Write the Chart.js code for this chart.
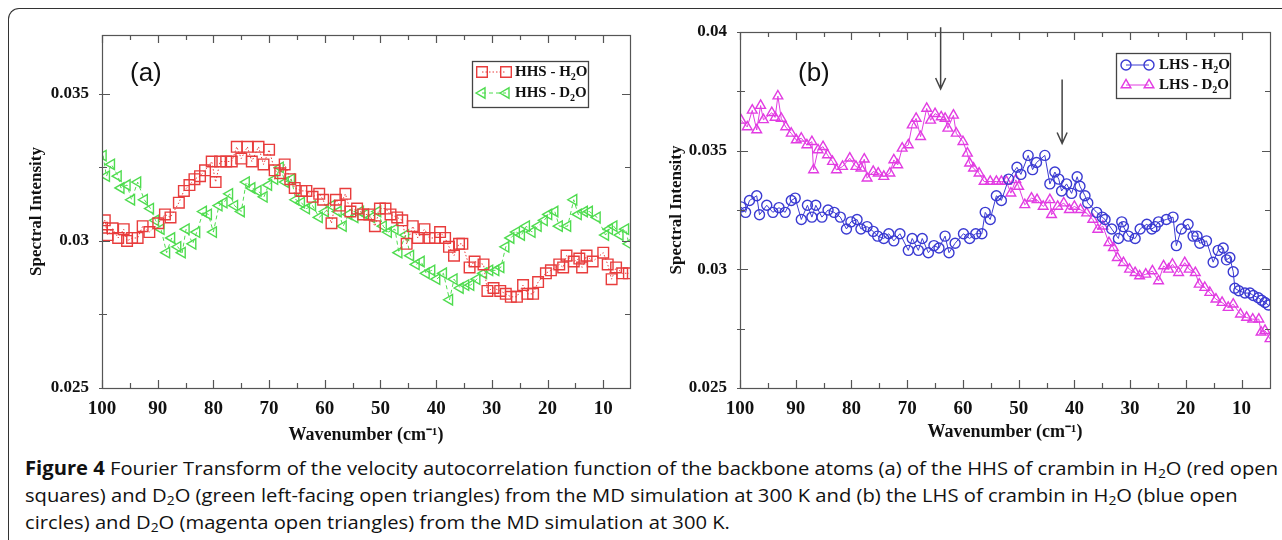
<!DOCTYPE html>
<html>
<head>
<meta charset="utf-8">
<script src="https://cdn.jsdelivr.net/npm/chart.js@4.4.0/dist/chart.umd.min.js"></script>
<style>
  body { margin: 0; background: #fff; width: 1282px; height: 540px; overflow: hidden; position: relative; }
  #frame { position: absolute; left: 8px; top: 8px; width: 1320px; height: 600px;
           border-left: 1.6px solid #333; border-top: 1.6px solid #333; border-top-left-radius: 11px; }
  #wrapA { position: absolute; left: 0; top: 0; width: 640px; height: 450px; }
  #wrapB { position: absolute; left: 640px; top: 0; width: 642px; height: 450px; }
  #caption { position: absolute; left: 25px; top: 455px; font-family: "Open Sans", sans-serif; font-size: 19px;
             font-weight: 500; line-height: 27px; color: #111; white-space: nowrap; transform-origin: 0 0; }
  #caption sub { font-size: 13px; vertical-align: -3px; line-height: 0; }
</style>
</head>
<body>
<div id="frame"></div>
<div id="wrapA"><canvas id="chartA" width="640" height="450"></canvas></div>
<div id="wrapB"><canvas id="chartB" width="642" height="450"></canvas></div>
<div id="caption">
  <span id="line1"><b>Figure 4</b> Fourier Transform of the velocity autocorrelation function of the backbone atoms (a) of the HHS of crambin in H<sub>2</sub>O (red open</span><br>
  squares) and D<sub>2</sub>O (green left-facing open triangles) from the MD simulation at 300 K and (b) the LHS of crambin in H<sub>2</sub>O (blue open<br>
  circles) and D<sub>2</sub>O (magenta open triangles) from the MD simulation at 300 K.
</div>
<script>
// ---- data ----
const xTickLabels = [100, 90, 80, 70, 60, 50, 40, 30, 20, 10];
const xMinorTicks = [95, 85, 75, 65, 55, 45, 35, 25, 15];
const yTickLabelsA = [0.025, 0.03, 0.035];
const yMinorTicksA = [0.0275, 0.0325];
const yTickLabelsB = [0.025, 0.03, 0.035, 0.04];
const yMinorTicksB = [0.0275, 0.0325, 0.0375];

// (a) HHS - H2O
const hhsH2oX = [100, 99.5, 99, 98.1, 97.1, 96.1, 95.5, 94.6, 93.6, 92.7, 91.5, 89.9, 88.7, 87.7, 86.2, 85.3, 84.3, 83.4, 82.4, 81.5,
  80.3, 79.6, 78.8, 77.7, 76.7, 75.8, 75, 73.9, 73.1, 71.9, 71, 70, 69, 68, 67.2, 66.2, 65.4, 64.2, 63.3, 62.2,
  61, 60.3, 58.8, 58, 57.3, 56.3, 55.4, 54.2, 53.1, 52, 51, 50.1, 49.1, 48.2, 47, 46.1, 45.3, 44.2, 43.3, 42.1,
  41.2, 40.2, 39.3, 38.4, 37.7, 36.8, 35.9, 35.3, 34, 33.1, 31.5, 30.8, 29.7, 28.5, 27.5, 26.6, 25.5, 24.4, 23.6, 22.6,
  21.7, 20.3, 19.4, 17.9, 17.2, 16.6, 15.3, 14.3, 13.8, 13, 11.9, 10, 9.2, 8.5, 7.7, 6.6, 5.4];
const hhsH2oY = [0.03045, 0.0307, 0.0302, 0.03043, 0.0301, 0.0304, 0.0300, 0.0301, 0.0301, 0.0305, 0.0303, 0.0306, 0.0309, 0.0308, 0.0313, 0.0317, 0.0319, 0.0321, 0.0322, 0.0324,
  0.0327, 0.0320, 0.0327, 0.0327, 0.0327, 0.0332, 0.0328, 0.0332, 0.0327, 0.0332, 0.0326, 0.0331, 0.0324, 0.0323, 0.0326, 0.0321, 0.0318, 0.0317, 0.0317, 0.0315,
  0.0316, 0.0314, 0.0306, 0.0314, 0.0312, 0.0316, 0.0310, 0.0311, 0.0309, 0.0309, 0.0305, 0.0311, 0.0311, 0.0309, 0.0308, 0.0307, 0.0299, 0.0305, 0.0301, 0.0304,
  0.0301, 0.0301, 0.0303, 0.0301, 0.0298, 0.0295, 0.0299, 0.0299, 0.0291, 0.0293, 0.0292, 0.0283, 0.0284, 0.0283, 0.0282, 0.0281, 0.0281, 0.0285, 0.0282, 0.0282,
  0.0286, 0.0289, 0.0290, 0.0292, 0.0291, 0.0295, 0.0293, 0.0294, 0.0291, 0.0295, 0.0293, 0.0296, 0.0292, 0.0287, 0.0291, 0.0289, 0.0289];

// (a) HHS - D2O
const hhsD2oX = [99.8, 99.2, 98.3, 97.1, 96.6, 95.5, 94.7, 93.6, 92.4, 91.3, 90.4, 89.4, 88.4, 87.5, 86.4, 85.6, 84.9, 83.7, 83, 81.8,
  80.9, 80, 79, 78.1, 77.1, 76.2, 75, 74.1, 73.1, 72, 70.9, 70.1, 69, 68, 67.1, 66, 65.2, 64.2, 63.3, 62.2,
  61, 59.9, 58.8, 57.6, 56.7, 55.7, 54.6, 53.6, 52.7, 51.6, 50.5, 49.5, 48.6, 47.4, 46.7, 45.5, 44.6, 43.6, 42.7, 41.8,
  40.8, 39.9, 38.7, 37.6, 36.8, 35.7, 34.7, 33.8, 32.7, 31.5, 30.4, 29.3, 28.4, 27.5, 26.6, 25.6, 24.7, 23.8, 22.8, 21.7,
  20.6, 19.8, 18.7, 17.9, 16.4, 15.3, 14.5, 13.4, 12.5, 11.1, 9.6, 8.9, 8.1, 7, 6, 5.4];
const hhsD2oY = [0.0329, 0.0322, 0.0326, 0.0322, 0.0318, 0.0319, 0.0314, 0.0320, 0.0314, 0.0311, 0.0307, 0.0304, 0.0296, 0.0301, 0.0298, 0.0296, 0.0304, 0.0299, 0.0303, 0.0310,
  0.0309, 0.0303, 0.0312, 0.0313, 0.0316, 0.0312, 0.0310, 0.0320, 0.0318, 0.0317, 0.0315, 0.0319, 0.0321, 0.0325, 0.0320, 0.0321, 0.0314, 0.0313, 0.0311, 0.0312,
  0.0308, 0.0310, 0.0312, 0.0310, 0.0305, 0.0309, 0.0308, 0.0310, 0.0309, 0.0308, 0.0310, 0.0305, 0.0303, 0.0304, 0.0296, 0.0302, 0.0295, 0.0292, 0.0293, 0.0289,
  0.0290, 0.0287, 0.0289, 0.0280, 0.0287, 0.0284, 0.0285, 0.0285, 0.0287, 0.0289, 0.0290, 0.0290, 0.0291, 0.0298, 0.0301, 0.0303, 0.0302, 0.0305, 0.0303, 0.0305,
  0.0307, 0.0309, 0.0310, 0.0305, 0.0305, 0.0314, 0.0309, 0.0310, 0.0310, 0.0308, 0.0302, 0.0304, 0.0305, 0.0302, 0.0304, 0.0299];

// (b) LHS - H2O
const lhsH2oX = [99.8, 99, 98.3, 97, 96.5, 95.2, 94.1, 93, 91.9, 90.8, 90.1, 89, 87.9, 87.1, 86.4, 85.3, 84.2, 83.1, 82, 80.9,
  80.1, 79, 78.3, 77.2, 76.1, 75.3, 74.2, 73.3, 72.4, 71.3, 69.8, 69.1, 68, 67.3, 66.2, 65.2, 64.3, 63.2, 62.5, 61.4,
  59.9, 58.8, 57.7, 56.6, 56, 55.1, 54, 53.1, 51.8, 50.3, 49.6, 48.3, 47.5, 46.8, 45.3, 44.4, 43.5, 42.8, 42.3, 41.4,
  40.5, 39.5, 39, 38.1, 37.6, 36, 35, 34.5, 33.3, 32.1, 31.5, 31.2, 30.3, 29.1, 28.2, 27, 26.1, 25.5, 24.9, 23.5,
  22.3, 21.7, 20.8, 19.6, 18.7, 18, 17.5, 16.3, 15.1, 14.2, 13.3, 12.7, 12.1, 11.5, 11.2, 10.5, 9.4, 8.5, 7.9, 7,
  6.4, 5.8, 5.2];
const lhsH2oY = [0.03263, 0.0324, 0.0329, 0.0331, 0.0323, 0.0327, 0.0324, 0.0326, 0.0324, 0.0329, 0.0330, 0.0321, 0.0327, 0.0322, 0.0327, 0.0322, 0.0325, 0.0324, 0.0322, 0.0317,
  0.0320, 0.0321, 0.0317, 0.0318, 0.0316, 0.0314, 0.0313, 0.0315, 0.0312, 0.0315, 0.0308, 0.0313, 0.0308, 0.0313, 0.0307, 0.0310, 0.0309, 0.0314, 0.0307, 0.0311,
  0.0315, 0.0313, 0.0315, 0.0315, 0.0324, 0.0321, 0.0331, 0.0329, 0.0338, 0.0343, 0.0340, 0.0348, 0.0342, 0.0345, 0.0348, 0.0336, 0.0341, 0.0338, 0.0333, 0.0336,
  0.0332, 0.0339, 0.0335, 0.0331, 0.0328, 0.0324, 0.0322, 0.0321, 0.0317, 0.0313, 0.0320, 0.0318, 0.0314, 0.0313, 0.0317, 0.0319, 0.0317, 0.0318, 0.0320, 0.0321,
  0.0322, 0.0310, 0.0317, 0.0319, 0.0314, 0.0314, 0.0311, 0.0312, 0.0303, 0.0308, 0.0309, 0.0304, 0.0305, 0.0299, 0.0292, 0.0291, 0.0290, 0.0290, 0.0289, 0.0288,
  0.0287, 0.0286, 0.0285];

// (b) LHS - D2O
const lhsD2oX = [99.8, 98.7, 97.8, 97, 96.3, 95.8, 94.3, 93.7, 93.2, 92.6, 91.8, 90.8, 89.9, 89, 88, 87.1, 86.8, 86, 85.1, 84.3,
  83.4, 82.7, 81.6, 80.3, 79.2, 78.3, 77.7, 77.2, 76.1, 75.2, 74.2, 73.1, 72.4, 71.7, 70.9, 69.8, 69.1, 68.4, 67.6, 66.5,
  65.8, 65, 63.9, 63.2, 62.7, 61.7, 61.2, 60, 59.2, 58.8, 58.1, 57.1, 56.2, 55.1, 54, 53.1, 52.2, 51.4, 50.5, 50,
  48.9, 47.7, 46.7, 45.6, 44.4, 44.1, 43, 41.9, 40.9, 40, 38.9, 37.8, 36.7, 35.8, 34.9, 33.8, 33, 32.3, 31.2, 30.1,
  29.1, 28.3, 27.2, 26, 24.9, 24, 23.1, 22.4, 21.3, 20.2, 19.4, 18.3, 17.6, 16.6, 15.7, 14.6, 13.5, 12.4, 11.5, 10.2,
  9.1, 8, 6.9, 6.5, 5.8, 4.9];
const lhsD2oY = [0.03628, 0.0360, 0.0367, 0.03587, 0.0369, 0.0363, 0.0366, 0.0364, 0.0373, 0.03636, 0.0360, 0.03573, 0.03545, 0.03552, 0.03524, 0.03538, 0.03419, 0.03503, 0.03517, 0.03482,
  0.03454, 0.03419, 0.03433, 0.03468, 0.03433, 0.03426, 0.03464, 0.03384, 0.03412, 0.03405, 0.03391, 0.03405, 0.03461, 0.0344, 0.0351, 0.03524, 0.03608, 0.03636, 0.03559, 0.03678,
  0.03628, 0.03656, 0.03642, 0.03636, 0.03594, 0.03649, 0.03573, 0.03538, 0.03489, 0.03447, 0.03426, 0.03405, 0.0337, 0.0337, 0.0337, 0.0337, 0.0337, 0.03321, 0.03377, 0.03349,
  0.03272, 0.0330, 0.03293, 0.03265, 0.03293, 0.0323, 0.03265, 0.03279, 0.03251, 0.03265, 0.03251, 0.03237, 0.0321, 0.03168, 0.03182, 0.03112, 0.03091, 0.03049, 0.03028, 0.0300,
  0.02986, 0.02972, 0.02979, 0.02993, 0.02951, 0.03014, 0.0300, 0.03021, 0.02986, 0.03028, 0.0300, 0.02986, 0.02937, 0.02923, 0.02902, 0.02874, 0.0286, 0.02839, 0.02853, 0.02811,
  0.02797, 0.0279, 0.0279, 0.02735, 0.02742, 0.02707];

// arrows in (b): wavenumber, start intensity, tip intensity
const arrowX = [64, 42.2];
const arrowFrom = [0.0402, 0.0380];
const arrowTo = [0.0376, 0.0353];

// ---- helpers ----
const serif = '"Liberation Serif", "Times New Roman", serif';

function series(label, xs, ys, color, style, rot, radius, dash) {
  return {
    label: label,
    data: xs.map((v, i) => ({ x: v, y: ys[i] })),
    showLine: true,
    borderColor: color,
    borderWidth: 1,
    borderDash: dash,
    pointStyle: style,
    pointRotation: rot,
    pointRadius: radius,
    pointBorderWidth: 1.4,
    pointBorderColor: color,
    pointBackgroundColor: 'rgba(0,0,0,0)',
    fill: false,
    tension: 0
  };
}

// frame, inward ticks, legend box, panel letter and arrows
const decoPlugin = {
  id: 'deco',
  afterDraw(chart, args, o) {
    const ctx = chart.ctx;
    const a = chart.chartArea;
    const sx = chart.scales.x, sy = chart.scales.y;
    ctx.save();
    ctx.strokeStyle = '#555';
    ctx.lineWidth = 1.2;
    ctx.strokeRect(Math.round(a.left) + 0.5, Math.round(a.top) + 0.5, Math.round(a.right - a.left), Math.round(a.bottom - a.top));

    ctx.beginPath();
    const xt = (vals, len) => vals.forEach(v => {
      const px = Math.round(sx.getPixelForValue(v)) + 0.5;
      ctx.moveTo(px, a.bottom); ctx.lineTo(px, a.bottom - len);
      ctx.moveTo(px, a.top); ctx.lineTo(px, a.top + len);
    });
    const yt = (vals, len) => vals.forEach(v => {
      const py = Math.round(sy.getPixelForValue(v)) + 0.5;
      ctx.moveTo(a.left - 3, py); ctx.lineTo(a.left + len, py);
      ctx.moveTo(a.right, py); ctx.lineTo(a.right - len, py);
    });
    xt(o.xMajor, 8); xt(o.xMinor, 5);
    yt(o.yMajor, 8); yt(o.yMinor, 5);
    ctx.stroke();

    // panel letter
    ctx.fillStyle = '#111';
    ctx.font = '26px "Liberation Sans", Arial, sans-serif';
    ctx.textBaseline = 'middle';
    ctx.textAlign = 'left';
    ctx.fillText(o.letter, o.letterPos[0], o.letterPos[1]);

    // legend
    const L = o.legend;
    ctx.fillStyle = '#fff';
    ctx.fillRect(L.box[0], L.box[1], L.box[2], L.box[3]);
    ctx.strokeStyle = '#444';
    ctx.lineWidth = 1.3;
    ctx.strokeRect(L.box[0] + 0.5, L.box[1] + 0.5, L.box[2], L.box[3]);
    chart.data.datasets.forEach((ds, i) => {
      const yy = L.rows[i];
      ctx.save();
      ctx.strokeStyle = ds.borderColor;
      ctx.lineWidth = 1;
      ctx.setLineDash(ds.borderDash || []);
      ctx.beginPath();
      ctx.moveTo(L.marks[0], yy); ctx.lineTo(L.marks[1], yy);
      ctx.stroke();
      ctx.setLineDash([]);
      ctx.fillStyle = 'rgba(0,0,0,0)';
      ctx.lineWidth = 1.4;
      L.marks.forEach(mx => Chart.helpers.drawPoint(ctx, {
        pointStyle: ds.pointStyle, rotation: ds.pointRotation, radius: ds.pointRadius, borderWidth: 1.4
      }, mx, yy));
      ctx.restore();
      // text with subscript 2
      const parts = ds.label.split('2');
      ctx.fillStyle = '#111';
      ctx.textBaseline = 'middle';
      ctx.font = 'bold 15px ' + serif;
      let tx = L.textX;
      ctx.fillText(parts[0], tx, yy);
      tx += ctx.measureText(parts[0]).width;
      ctx.font = 'bold 10px ' + serif;
      ctx.fillText('2', tx, yy + 5);
      tx += ctx.measureText('2').width;
      ctx.font = 'bold 15px ' + serif;
      ctx.fillText(parts[1], tx, yy);
    });

    // arrows
    if (o.arrows) {
      ctx.strokeStyle = '#444';
      ctx.lineWidth = 1.5;
      o.arrows.x.forEach((v, i) => {
        const px = sx.getPixelForValue(v);
        const p0 = sy.getPixelForValue(o.arrows.from[i]);
        const p1 = sy.getPixelForValue(o.arrows.to[i]);
        ctx.beginPath();
        ctx.moveTo(px, p0); ctx.lineTo(px, p1);
        ctx.moveTo(px - 5, p1 - 11); ctx.lineTo(px, p1); ctx.lineTo(px + 5, p1 - 11);
        ctx.stroke();
      });
    }
    ctx.restore();
  }
};

function makeChart(id, datasets, xMin, yMin, yMax, yMajor, yMinor, geo, deco) {
  return new Chart(document.getElementById(id), {
    type: 'scatter',
    data: { datasets: datasets },
    options: {
      responsive: false,
      animation: false,
      devicePixelRatio: 1,
      layout: { padding: { left: 0, top: geo.top, right: geo.right, bottom: 0 } },
      plugins: { legend: { display: false }, tooltip: { enabled: false }, deco: deco },
      scales: {
        x: {
          type: 'linear', reverse: true, min: xMin, max: 100,
          afterBuildTicks: s => { s.ticks = xTickLabels.map(v => ({ value: v })); },
          afterFit: s => { s.height = geo.xHeight; },
          grid: { display: false },
          border: { display: false },
          ticks: { autoSkip: false, maxRotation: 0, padding: 2, color: '#111',
                   font: { family: serif, size: 19, weight: 'bold' }, callback: v => String(v) },
          title: { display: true, text: 'Wavenumber (cm⁻¹)', color: '#111',
                   font: { family: serif, size: 18, weight: 'bold' }, padding: { top: 0, bottom: geo.xTitlePad } }
        },
        y: {
          type: 'linear', min: yMin, max: yMax,
          afterBuildTicks: s => { s.ticks = yMajor.map(v => ({ value: v })); },
          afterFit: s => { s.width = geo.yWidth; },
          grid: { display: false },
          border: { display: false },
          ticks: { padding: 5, color: '#111', font: { family: serif, size: 17, weight: 'bold' },
                   callback: v => String(v) },
          title: { display: true, text: 'Spectral Intensity', color: '#111',
                   font: { family: serif, size: 17, weight: 'bold' }, padding: { top: 26, bottom: 0 } }
        }
      }
    },
    plugins: [decoPlugin]
  });
}

makeChart('chartA', [
  series('HHS - H2O', hhsH2oX, hhsH2oY, '#e83c3c', 'rect', 0, 7.5, [1.5, 2]),
  series('HHS - D2O', hhsD2oX, hhsD2oY, '#4fdc4f', 'triangle', -90, 6, [4, 3])
], 5.2, 0.025, 0.037, yTickLabelsA, yMinorTicksA,
  { top: 35, right: 10, xHeight: 62, yWidth: 102, xTitlePad: 4 },
  { xMajor: xTickLabels, xMinor: xMinorTicks, yMajor: yTickLabelsA, yMinor: yMinorTicksA,
    letter: '(a)', letterPos: [130, 74],
    legend: { box: [472, 61, 116, 46], rows: [72, 93], marks: [482, 506], textX: 515 } });

makeChart('chartB', [
  series('LHS - H2O', lhsH2oX, lhsH2oY, '#3a3ad2', 'circle', 0, 5, []),
  series('LHS - D2O', lhsD2oX, lhsD2oY, '#e23ce2', 'triangle', 0, 5.6, [])
], 4.9, 0.025, 0.04, yTickLabelsB, yMinorTicksB,
  { top: 32, right: 12, xHeight: 62, yWidth: 100, xTitlePad: 7 },
  { xMajor: xTickLabels, xMinor: xMinorTicks, yMajor: yTickLabelsB, yMinor: yMinorTicksB,
    letter: '(b)', letterPos: [158, 74],
    legend: { box: [476, 53, 114, 45], rows: [65, 85], marks: [486, 509], textX: 519 },
    arrows: { x: arrowX, from: arrowFrom, to: arrowTo } });

// squeeze caption to the condensed width of the original
const cap = document.getElementById('caption');
const w1 = document.getElementById('line1').getBoundingClientRect().width;
cap.style.transform = 'scaleX(' + (1253 / w1) + ')';
</script>
</body>
</html>
